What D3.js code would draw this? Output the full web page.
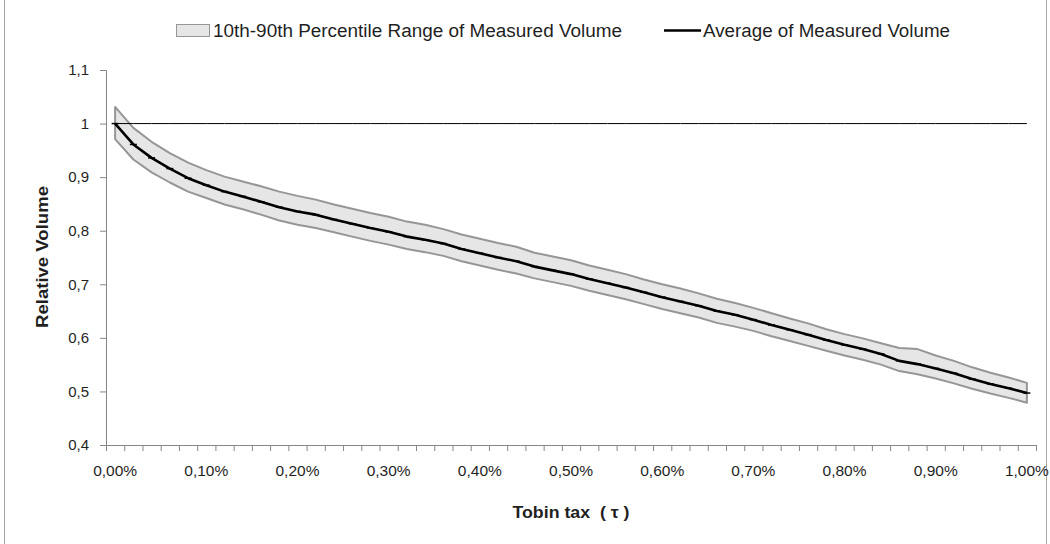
<!DOCTYPE html>
<html>
<head>
<meta charset="utf-8">
<script src="https://cdn.jsdelivr.net/npm/d3@7"></script>
<style>
  html, body { margin: 0; padding: 0; background: #fff; }
  svg { display: block; }
  text { font-family: "Liberation Sans", Arial, sans-serif; }
</style>
</head>
<body>
<svg id="chart" width="1050" height="544"></svg>
<script>
// ---- Data ----
const taxLevels = d3.range(51).map(i => i * 0.02); // category labels in percent (0.00% .. 1.00%)
const averageVolume = [1.000, 0.961, 0.936, 0.916, 0.898, 0.885, 0.873, 0.864, 0.854, 0.844,
  0.836, 0.830, 0.821, 0.813, 0.805, 0.798, 0.789, 0.783, 0.776, 0.766,
  0.758, 0.750, 0.743, 0.733, 0.726, 0.719, 0.710, 0.702, 0.694, 0.685,
  0.676, 0.668, 0.660, 0.650, 0.643, 0.634, 0.624, 0.615, 0.606, 0.596,
  0.587, 0.579, 0.570, 0.557, 0.551, 0.543, 0.534, 0.523, 0.514, 0.506, 0.497];
const upperVolume = [1.031, 0.992, 0.966, 0.945, 0.927, 0.913, 0.901, 0.892, 0.883, 0.873,
  0.865, 0.858, 0.849, 0.841, 0.833, 0.826, 0.817, 0.811, 0.803, 0.793,
  0.785, 0.777, 0.770, 0.759, 0.752, 0.745, 0.735, 0.727, 0.719, 0.709,
  0.700, 0.692, 0.683, 0.673, 0.665, 0.656, 0.646, 0.636, 0.627, 0.616,
  0.607, 0.599, 0.590, 0.581, 0.579, 0.567, 0.557, 0.545, 0.535, 0.526, 0.516];
const lowerVolume = [0.971, 0.933, 0.909, 0.890, 0.873, 0.861, 0.849, 0.840, 0.830, 0.819,
  0.811, 0.805, 0.797, 0.789, 0.781, 0.774, 0.766, 0.760, 0.753, 0.743,
  0.735, 0.727, 0.720, 0.711, 0.704, 0.697, 0.688, 0.680, 0.672, 0.663,
  0.654, 0.646, 0.638, 0.628, 0.621, 0.613, 0.603, 0.594, 0.585, 0.576,
  0.567, 0.559, 0.550, 0.538, 0.532, 0.524, 0.515, 0.505, 0.496, 0.488, 0.479];
const baselineVolume = taxLevels.map(() => 1);
const yTicks = [0.4, 0.5, 0.6, 0.7, 0.8, 0.9, 1.0, 1.1];
const legendLabels = ["10th-90th Percentile Range of Measured Volume", "Average of Measured Volume"];
const xTitle = "Tobin tax  ( \u03C4 )";
const yTitle = "Relative Volume";

// ---- Layout ----
const svg = d3.select("#chart");
const plot = { left: 106, right: 1036, top: 70, bottom: 445 };
const axisColor = "#868686";
const textColor = "#1f1f1f";

// outer frame
svg.append("rect").attr("x", 4.5).attr("y", -1).attr("width", 1042).attr("height", 547)
  .attr("fill", "none").attr("stroke", "#a6a6a6").attr("stroke-width", 1);

const x = d3.scaleBand().domain(d3.range(taxLevels.length)).range([plot.left, plot.right]).padding(0);
const xc = i => x(i) + x.bandwidth() / 2;
const xEdge = d3.scaleLinear().domain([0, taxLevels.length]).range([plot.left, plot.right]);
const y = d3.scaleLinear().domain([0.4, 1.1]).range([plot.bottom, plot.top]);

const commaFmt = v => d3.format("~g")(+v.toFixed(2)).replace(".", ",");
const pctFmt = v => v.toFixed(2).replace(".", ",") + "%";

// band
const area = d3.area().x((d, i) => xc(i)).y0((d, i) => y(lowerVolume[i])).y1((d, i) => y(upperVolume[i]));
svg.append("path").datum(taxLevels).attr("d", area)
  .attr("fill", "#e6e6e6").attr("stroke", "#969696").attr("stroke-width", 2).attr("stroke-linejoin", "round");

// baseline at 1
const line = arr => d3.line().x((d, i) => xc(i)).y((d, i) => y(arr[i]));
svg.append("path").datum(taxLevels).attr("d", line(baselineVolume))
  .attr("fill", "none").attr("stroke", "#000").attr("stroke-width", 1);

// average line
svg.append("path").datum(taxLevels).attr("d", line(averageVolume))
  .attr("fill", "none").attr("stroke", "#000").attr("stroke-width", 2.6).attr("stroke-linejoin", "round");
// dash markers
svg.append("g").selectAll("line").data(averageVolume).join("line")
  .attr("x1", (d, i) => xc(i) - 3.5).attr("x2", (d, i) => xc(i) + 3.5)
  .attr("y1", d => y(d)).attr("y2", d => y(d))
  .attr("stroke", "#000").attr("stroke-width", 1.5);

// y axis
const yAxis = svg.append("g").attr("transform", `translate(${plot.left},0)`)
  .call(d3.axisLeft(y).tickValues(yTicks).tickSize(6).tickPadding(11).tickFormat(commaFmt));
yAxis.select(".domain").attr("stroke", axisColor);
yAxis.selectAll(".tick line").attr("stroke", axisColor);
yAxis.selectAll("text").attr("font-size", 15).attr("fill", textColor);

// x axis ticks (boundaries)
const xAxis = svg.append("g").attr("transform", `translate(0,${plot.bottom})`)
  .call(d3.axisBottom(xEdge).tickValues(d3.range(taxLevels.length + 1)).tickSize(6).tickFormat(""));
xAxis.select(".domain").attr("stroke", axisColor);
xAxis.selectAll(".tick line").attr("stroke", axisColor);

// x labels every 5th category
const xLab = svg.append("g").attr("transform", `translate(0,${plot.bottom})`)
  .call(d3.axisBottom(x).tickValues(d3.range(0, taxLevels.length, 5)).tickSize(0).tickPadding(20)
    .tickFormat(i => pctFmt(taxLevels[i])));
xLab.select(".domain").remove();
xLab.selectAll("text").attr("font-size", 15).attr("fill", textColor)
  .attr("textLength", 44).attr("lengthAdjust", "spacingAndGlyphs");

// titles
svg.append("text").attr("x", 571).attr("y", 518).attr("text-anchor", "middle")
  .style("white-space", "pre")
  .attr("font-size", 17).attr("font-weight", "bold").attr("fill", textColor)
  .attr("textLength", 117).attr("lengthAdjust", "spacingAndGlyphs").text(xTitle);
svg.append("text").attr("transform", `translate(48,257) rotate(-90)`).attr("text-anchor", "middle")
  .attr("font-size", 17).attr("font-weight", "bold").attr("fill", textColor)
  .attr("textLength", 142).attr("lengthAdjust", "spacingAndGlyphs").text(yTitle);

// legend
const lg = svg.append("g");
lg.append("rect").attr("x", 176.5).attr("y", 24.5).attr("width", 33).attr("height", 12)
  .attr("fill", "#e6e6e6").attr("stroke", "#969696").attr("stroke-width", 1);
lg.append("text").attr("x", 213).attr("y", 37).attr("font-size", 18).attr("fill", textColor)
  .attr("textLength", 409).attr("lengthAdjust", "spacingAndGlyphs").text(legendLabels[0]);
lg.append("line").attr("x1", 664).attr("x2", 701).attr("y1", 30.5).attr("y2", 30.5)
  .attr("stroke", "#000").attr("stroke-width", 2.6);
lg.append("text").attr("x", 703).attr("y", 37).attr("font-size", 18).attr("fill", textColor)
  .attr("textLength", 247).attr("lengthAdjust", "spacingAndGlyphs").text(legendLabels[1]);
</script>
</body>
</html>
